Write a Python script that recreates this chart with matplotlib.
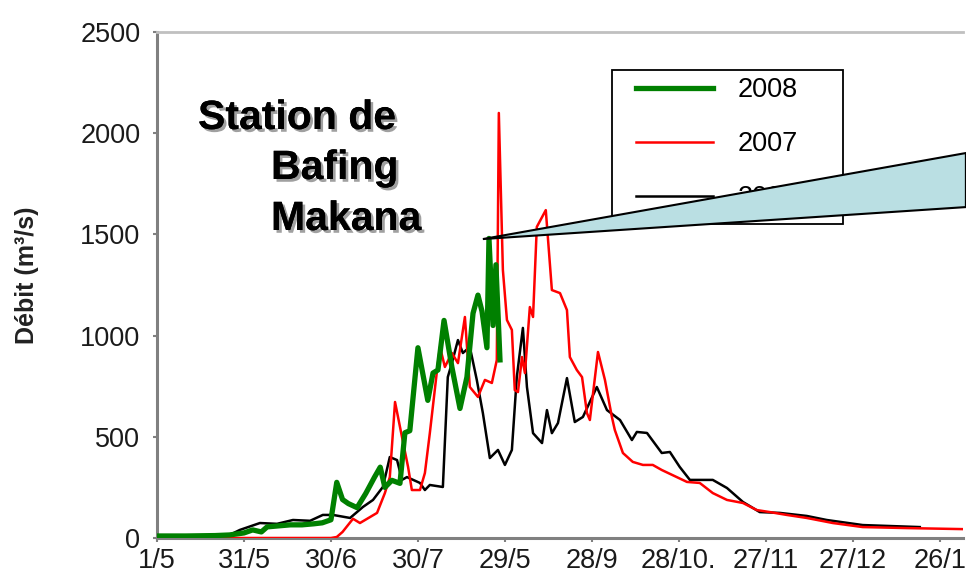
import matplotlib
matplotlib.use("Agg")
from matplotlib import pyplot as plt
from matplotlib.patches import Polygon, Rectangle
import matplotlib.patheffects as pe

# days counted from 1/5
tick_days = [0, 30, 60, 90, 120, 150, 180, 210, 240, 270]
tick_labels = ["1/5", "31/5", "30/6", "30/7", "29/5", "28/9",
               "28/10.", "27/11", "27/12", "26/1"]

# 2006 (black)
days_2006 = [0, 24, 28.6, 35.5, 41.4, 46.9, 52.8, 57.2, 60.7, 66.6, 71, 74.5,
             77.9, 80.3, 82.8, 84.5, 86.2, 90.7, 92.4, 94.1, 98.6, 100.3,
             101.7, 103.8, 105.5, 107.9, 110.3, 112.4, 114.8, 117.6, 120,
             122.4, 124.1, 126.2, 127.6, 129.7, 132.8, 134.5, 136.2, 138.3,
             141.4, 144.1, 146.9, 151.7, 155.2, 159.7, 163.8, 165.5, 169,
             174.1, 176.9, 180.3, 183.8, 191.7, 196.6, 202.1, 207.9, 214.8,
             224.1, 231, 243.4, 263.1]
flow_2006 = [5, 8, 40, 74, 70, 89, 85, 114, 114, 99, 153, 188,
             252, 400, 385, 287, 301, 272, 237, 262, 252, 795,
             864, 978, 914, 944, 781, 617, 395, 435, 361,
             435, 795, 1038, 746, 518, 469, 632, 518, 568,
             790, 573, 598, 746, 632, 583, 484, 524, 519,
             420, 425, 351, 287, 287, 247, 178, 128, 124,
             109, 89, 64, 54]

# 2007 (red)
days_2007 = [0, 60, 62, 64, 67.6, 70, 75.9, 78.6, 80.3, 82.1, 84.5, 86.6,
             87.9, 90.7, 92.4, 94.1, 96.6, 97.6, 99.3, 101.7, 103.8, 106.2,
             107.9, 110.7, 113.1, 115.5, 117.2, 117.9, 119.3, 120.7, 122.4,
             123.4, 124.5, 125.9, 126.9, 128.6, 129.7, 131, 134.1, 136.2,
             139, 141.4, 142.4, 144.8, 146.6, 148.3, 149.3, 152.1, 154.5,
             156.9, 157.9, 160.7, 164.1, 167.6, 171, 174.1, 182.8, 187.2,
             191.7, 196.6, 202.1, 206.9, 211.4, 217.2, 224.1, 233.1, 243.4,
             258.6, 277.6]
flow_2007 = [0, 0, 5, 30, 95, 74, 124, 222, 301, 672, 499, 351,
             237, 237, 321, 518, 830, 944, 845, 914, 864, 1092,
             746, 697, 781, 766, 879, 2100, 1324, 1077, 1028,
             731, 721, 894, 815, 1141, 1092, 1537, 1620, 1225,
             1210, 1126, 894, 830, 795, 617, 583, 919, 781,
             598, 534, 420, 376, 361, 361, 336, 277, 272,
             222, 188, 173, 138, 128, 114, 99, 74, 54,
             49, 44]

# 2008 (green)
days_2008 = [0, 10, 20, 25, 30, 33, 36, 38, 42, 46, 50, 54, 57, 60, 62, 64,
             66, 69, 72, 75, 77, 78.6, 81, 83.8, 85.5, 87.2, 90, 93.4, 95.2,
             96.9, 99, 101.7, 104.5, 106.9, 109, 110.7, 112.1, 113.8, 114.5,
             115.9, 116.9, 118.3]
flow_2008 = [10, 10, 12, 15, 25, 40, 30, 55, 60, 65, 65, 70, 75, 90, 275, 190,
             170, 150, 220, 300, 350, 250, 285, 270, 520, 530, 940, 680, 815,
             830, 1075, 845, 640, 795, 1110, 1200, 1120, 940, 1480,
             1050, 1350, 880]

# callout wedge (data units)
callout_tip = (112.4, 1477)
callout_top = (279, 1902)
callout_bottom = (279, 1635)

plt.rcParams['font.family'] = ['Liberation Sans', 'DejaVu Sans']

fig = plt.figure(figsize=(9.66, 5.81), dpi=100)
ax = fig.add_axes([157 / 966, 43 / 581, 806 / 966, 506 / 581])

l06, = ax.plot(days_2006, flow_2006, color='black', lw=1.8, zorder=2)
l07, = ax.plot(days_2007, flow_2007, color='#ff0000', lw=1.8, zorder=3)
l08, = ax.plot(days_2008, flow_2008, color='#008000', lw=3.8, zorder=4)

ax.set_xlim(0, 278)
ax.set_ylim(0, 2500)
ax.set_xticks(tick_days)
ax.set_xticklabels(tick_labels)
ax.set_yticks(range(0, 2501, 500))

ax.spines['right'].set_visible(False)
ax.spines['top'].set_color('#c0c0c0')
ax.spines['top'].set_linewidth(2)
for s in ['left', 'bottom']:
    ax.spines[s].set_color('#808080')
    ax.spines[s].set_linewidth(2.2)
ax.tick_params(axis='both', length=3, width=1.5, color='#808080',
               labelsize=19.5, labelcolor='#1a1a1a')
ax.tick_params(axis='y', pad=9)
ax.tick_params(axis='x', pad=4)

fig.text(27 / 966, 1 - 275 / 581, "Débit (m³/s)", rotation=90,
         ha='center', va='center', fontsize=18, fontweight='bold',
         color='#222222')

shadow = [pe.withSimplePatchShadow(offset=(2, -2), shadow_rgbFace='#888888',
                                   alpha=0.8), pe.Normal()]
for txt, px, py in [("Station de", 198, 129), ("Bafing", 271, 179),
                    ("Makana", 271, 230)]:
    fig.text(px / 966, 1 - py / 581, txt, fontsize=29.5, fontweight='bold',
             ha='left', va='baseline', path_effects=shadow)

# legend frame drawn on its own so the box matches the original size
frame = Rectangle((612 / 966, 1 - 224 / 581), 231 / 966, 154 / 581,
                  transform=fig.transFigure, facecolor='white',
                  edgecolor='black', lw=1.3, zorder=4.5, clip_on=False)
ax.add_patch(frame)

leg = ax.legend([l08, l07, l06], ["2008", "2007", "2006"],
                loc='upper left', bbox_to_anchor=(636 / 966, 1 - 77 / 581),
                bbox_transform=fig.transFigure, borderaxespad=0,
                fontsize=19.5, handlelength=2.85, handletextpad=0.9,
                labelspacing=1.04, borderpad=0, frameon=False)
leg.set_zorder(5)

wedge = Polygon([callout_tip, callout_top, callout_bottom], closed=True,
                facecolor='#badfe3', edgecolor='black', lw=1.5,
                clip_on=False, zorder=6)
ax.add_patch(wedge)

fig.savefig("out.png", dpi=100, facecolor='white')
